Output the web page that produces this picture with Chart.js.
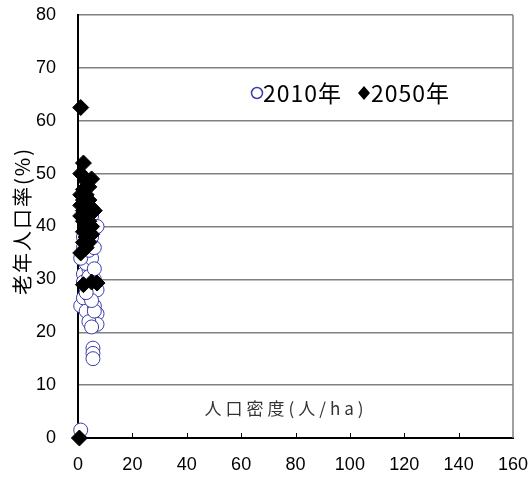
<!DOCTYPE html>
<html>
<head>
<meta charset="utf-8">
<script src="https://cdn.jsdelivr.net/npm/chart.js@4"></script>
<style>
  html, body { margin: 0; padding: 0; background: #fff; }
  #wrap { width: 529px; height: 477px; }
</style>
</head>
<body>
<div id="wrap"><canvas id="chart"></canvas></div>
<script>
// 人口密度 (人/ha) と 老年人口率 (%)
const xTicks = [0, 20, 40, 60, 80, 100, 120, 140, 160];
const yTicks = [0, 10, 20, 30, 40, 50, 60, 70, 80];

const density2010 = [1, 1, 2, 3, 4, 3, 5, 6, 7, 7, 4, 5, 6, 2, 4, 3, 5, 1, 4, 3, 2, 5, 6, 4, 3, 5, 4, 3, 2, 5.5, 5.5, 5.5, 6, 7, 5, 2, 4, 6, 7, 3, 6];
const aged2010    = [1.5, 25, 26.5, 24, 27, 29, 28, 25, 23.5, 21.5, 22, 21, 30, 31, 32, 33, 34, 34, 35.5, 37, 38, 38, 39.5, 40, 41, 42, 43.5, 44.5, 36, 17, 16, 15, 24, 28, 26, 29.5, 30.5, 36, 40, 27.5, 32];

const density2050 = [0.5, 1, 2, 1, 3, 5, 2, 4, 1, 3, 2, 4, 1, 3, 5, 2, 4, 1, 3, 6, 2, 4, 3, 5, 2, 4, 3, 5, 2, 4, 3, 1, 2, 5, 7];
const aged2050    = [0, 62.5, 52, 50, 48.5, 49, 47, 47.5, 46, 46, 45, 45, 44, 44, 43.5, 43, 42.5, 42, 42, 43, 41, 41, 40, 40, 39, 39, 38, 38.5, 37, 37, 36, 35, 29, 29.5, 29.3];

const labels = ['2010年', '2050年'];
const xTitle = '人口密度(人/ha)';
const yTitle = '老年人口率(%)';

function toPoints(xs, ys) {
    return xs.map(function (x, i) { return { x: x, y: ys[i] }; });
}

const numFont = { family: "'Liberation Sans', Arial, sans-serif", size: 18 };
const cjkFont = "'Noto Sans CJK JP', 'Liberation Sans', sans-serif";

const extras = {
    id: 'extras',
    afterDraw: function (chart) {
        const ctx = chart.ctx;
        const area = chart.chartArea;
        const xs = chart.scales.x;
        ctx.save();

        // right border
        ctx.strokeStyle = '#808080';
        ctx.lineWidth = 1.5;
        ctx.beginPath();
        ctx.moveTo(area.right, area.top);
        ctx.lineTo(area.right, area.bottom);
        ctx.stroke();

        // inward ticks on x axis
        ctx.strokeStyle = '#000';
        ctx.lineWidth = 1;
        xTicks.forEach(function (v) {
            if (v === 0 || v === 160) return;
            const px = Math.round(xs.getPixelForValue(v)) + 0.5;
            ctx.beginPath();
            ctx.moveTo(px, area.bottom);
            ctx.lineTo(px, area.bottom - 5);
            ctx.stroke();
        });

        // x title inside plot
        ctx.fillStyle = '#333';
        ctx.font = '17px ' + cjkFont;
        ctx.letterSpacing = '4px';
        ctx.textAlign = 'center';
        ctx.textBaseline = 'middle';
        ctx.fillText(xTitle, 286, 409);

        // y title
        ctx.save();
        ctx.translate(22, 221);
        ctx.rotate(-Math.PI / 2);
        ctx.fillStyle = '#000';
        ctx.font = '20px ' + cjkFont;
        ctx.letterSpacing = '2px';
        ctx.fillText(yTitle, 0, 0);
        ctx.restore();

        // legend
        ctx.letterSpacing = '1px';
        ctx.textAlign = 'left';
        ctx.font = '23px ' + cjkFont;
        ctx.strokeStyle = '#3c3ca8';
        ctx.lineWidth = 1.5;
        ctx.beginPath();
        ctx.arc(257, 93, 5.5, 0, Math.PI * 2);
        ctx.stroke();
        ctx.fillStyle = '#000';
        ctx.fillText(labels[0], 263, 93);
        ctx.beginPath();
        ctx.moveTo(364, 86);
        ctx.lineTo(370, 93);
        ctx.lineTo(364, 100);
        ctx.lineTo(358, 93);
        ctx.closePath();
        ctx.fill();
        ctx.fillText(labels[1], 371, 93);

        ctx.restore();
    }
};

new Chart(document.getElementById('chart').getContext('2d'), {
    type: 'scatter',
    data: {
        datasets: [
            {
                label: labels[1],
                data: toPoints(density2050, aged2050),
                pointStyle: 'rectRot',
                pointRadius: 8,
                pointHoverRadius: 8,
                backgroundColor: '#000',
                borderColor: '#000',
                borderWidth: 1,
                clip: false,
                order: 0
            },
            {
                label: labels[0],
                data: toPoints(density2010, aged2010),
                pointStyle: 'circle',
                pointRadius: 7,
                pointHoverRadius: 7,
                backgroundColor: '#fff',
                borderColor: '#3c3ca8',
                borderWidth: 1,
                clip: false,
                order: 1
            }
        ]
    },
    options: {
        responsive: true,
        maintainAspectRatio: false,
        animation: false,
        layout: { padding: { top: 15, right: 16, left: 0, bottom: 0 } },
        plugins: {
            legend: { display: false },
            tooltip: { enabled: false }
        },
        scales: {
            x: {
                type: 'linear',
                min: 0,
                max: 160,
                afterFit: function (scale) {
                    scale.height = 39;
                    scale.paddingLeft = 0;
                    scale.paddingRight = 0;
                },
                afterBuildTicks: function (scale) { scale.ticks = xTicks.map(function (v) { return { value: v }; }); },
                ticks: { color: '#000', font: numFont, padding: 16, maxRotation: 0 },
                grid: { display: false, drawTicks: false },
                border: { color: '#000', width: 2 }
            },
            y: {
                type: 'linear',
                min: 0,
                max: 80,
                afterFit: function (scale) {
                    scale.width = 78;
                    scale.paddingTop = 0;
                    scale.paddingBottom = 0;
                },
                afterBuildTicks: function (scale) { scale.ticks = yTicks.map(function (v) { return { value: v }; }); },
                ticks: { color: '#000', font: numFont, padding: 22 },
                grid: { color: '#808080', lineWidth: 1.5, drawTicks: false },
                border: { color: '#000', width: 2 }
            }
        }
    },
    plugins: [extras]
});
</script>
</body>
</html>
